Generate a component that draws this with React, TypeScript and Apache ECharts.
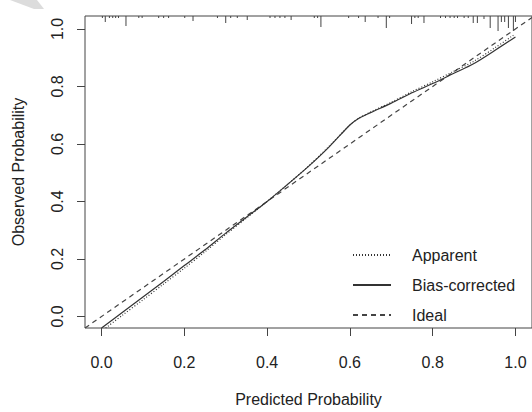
import React, { useEffect, useRef } from "react";
import * as echarts from "echarts";

const xTicks = [0, 0.2, 0.4, 0.6, 0.8, 1.0];
const yTicks = [0, 0.2, 0.4, 0.6, 0.8, 1.0];

const apparentX = [0.01, 0.05, 0.1, 0.15, 0.2, 0.25, 0.3, 0.35, 0.4, 0.45, 0.5, 0.55, 0.6, 0.62, 0.65, 0.7, 0.75, 0.8, 0.85, 0.9, 0.95, 0.995];
const apparentY = [-0.04, 0.004, 0.058, 0.113, 0.168, 0.225, 0.285, 0.342, 0.4, 0.46, 0.523, 0.592, 0.666, 0.688, 0.711, 0.745, 0.782, 0.816, 0.852, 0.888, 0.934, 0.978];

const biasX = [0.0, 0.05, 0.1, 0.15, 0.2, 0.25, 0.3, 0.35, 0.4, 0.45, 0.5, 0.55, 0.6, 0.62, 0.65, 0.7, 0.75, 0.8, 0.85, 0.9, 0.95, 1.0];
const biasY = [-0.04, 0.014, 0.068, 0.122, 0.177, 0.232, 0.29, 0.345, 0.4, 0.46, 0.522, 0.59, 0.666, 0.688, 0.709, 0.742, 0.778, 0.81, 0.845, 0.88, 0.925, 0.972];

const idealX = [-0.04, 1.04];
const idealY = [-0.04, 1.04];

const rugX = [0.002, 0.009, 0.019, 0.027, 0.034, 0.041, 0.059, 0.09, 0.098, 0.138, 0.15, 0.162, 0.201, 0.221, 0.28, 0.3, 0.312, 0.328, 0.352, 0.407, 0.419, 0.431, 0.443, 0.458, 0.514, 0.522, 0.53, 0.597, 0.621, 0.637, 0.668, 0.688, 0.696, 0.749, 0.757, 0.765, 0.779, 0.819, 0.831, 0.842, 0.852, 0.86, 0.876, 0.886, 0.898, 0.908, 0.924, 0.939, 0.958, 0.966, 0.974, 0.983, 0.995, 1.0];
const rugFreq = [2, 6, 2, 2, 2, 2, 10, 2, 2, 2, 2, 2, 2, 5, 2, 7, 2, 2, 4, 2, 2, 2, 2, 4, 2, 2, 11, 2, 2, 6, 2, 12, 2, 8, 2, 2, 7, 2, 2, 2, 2, 2, 2, 2, 7, 7, 3, 12, 15, 6, 6, 12, 15, 6];

const X_MIN = -0.04;
const X_MAX = 1.04;
const Y_MIN = -0.04;
const Y_MAX = 1.045;

const FONT = "'Liberation Sans', Arial, sans-serif";
const INK = "#333";
const TEXT = "#222";

export default function App() {
  const ref = useRef<HTMLDivElement>(null);

  useEffect(() => {
    document.body.style.margin = "0";
    if (!ref.current) return;
    const chart = echarts.init(ref.current, undefined, { renderer: "svg" });

    const zip = (xs: number[], ys: number[]) => xs.map((x, i) => [x, ys[i]]);

    chart.setOption({
      animation: false,
      backgroundColor: "#fff",
      textStyle: { fontFamily: FONT },
      grid: {
        left: 85,
        top: 16,
        width: 455,
        height: 313,
        show: true,
        borderColor: "#444",
        borderWidth: 1,
        backgroundColor: "transparent",
      },
      legend: {
        left: 352,
        top: 247,
        orient: "vertical",
        padding: 0,
        itemWidth: 38,
        itemHeight: 14,
        itemGap: 14,
        data: ["Apparent", "Bias-corrected", "Ideal"],
        itemStyle: { opacity: 0, borderWidth: 0 },
        textStyle: { fontSize: 16, color: TEXT, fontFamily: FONT, padding: [0, 0, 0, 16] },
      },
      xAxis: {
        type: "value",
        min: X_MIN,
        max: X_MAX,
        name: "Predicted Probability",
        nameLocation: "middle",
        nameGap: 63,
        nameTextStyle: { fontSize: 16, color: TEXT, fontFamily: FONT },
        axisLine: { show: false, onZero: false },
        axisTick: { show: true, length: 8, lineStyle: { color: "#444" }, customValues: xTicks },
        axisLabel: {
          fontSize: 16,
          color: TEXT,
          margin: 26,
          customValues: xTicks,
          formatter: (v: number) => v.toFixed(1),
        },
        splitLine: { show: false },
      },
      yAxis: {
        type: "value",
        min: Y_MIN,
        max: Y_MAX,
        name: "Observed Probability",
        nameLocation: "middle",
        nameGap: 59,
        nameTextStyle: { fontSize: 16, color: TEXT, fontFamily: FONT },
        axisLine: { show: false, onZero: false },
        axisTick: { show: true, length: 8, lineStyle: { color: "#444" }, customValues: yTicks },
        axisLabel: {
          fontSize: 16,
          color: TEXT,
          margin: 20,
          rotate: 90,
          customValues: yTicks,
          formatter: (v: number) => v.toFixed(1),
        },
        splitLine: { show: false },
      },
      series: [
        {
          name: "Apparent",
          type: "line",
          data: zip(apparentX, apparentY),
          symbol: "none",
          smooth: 0.3,
          lineStyle: { color: INK, width: 1.2, type: [1, 2] },
          itemStyle: { color: INK },
          z: 3,
        },
        {
          name: "Bias-corrected",
          type: "line",
          data: zip(biasX, biasY),
          symbol: "none",
          smooth: 0.3,
          lineStyle: { color: INK, width: 1.2, type: "solid" },
          itemStyle: { color: INK },
          z: 4,
        },
        {
          name: "Ideal",
          type: "line",
          data: zip(idealX, idealY),
          symbol: "none",
          lineStyle: { color: "#444", width: 1.2, type: [5, 4] },
          itemStyle: { color: "#444" },
          z: 2,
        },
        {
          name: "rug",
          type: "custom",
          data: zip(rugX, rugFreq),
          encode: { x: 0, y: 1 },
          silent: true,
          renderItem: (params: any, api: any) => {
            const x = api.value(0);
            const len = api.value(1);
            const p = api.coord([x, Y_MAX]);
            return {
              type: "line",
              shape: { x1: p[0], y1: p[1], x2: p[0], y2: p[1] + len },
              style: { stroke: "#444", lineWidth: 1 },
            };
          },
          z: 5,
        },
      ],
      graphic: [
        {
          type: "polygon",
          shape: { points: [[10, 0], [37, 0], [44, 9], [34, 9]] },
          style: { fill: "#dcdcdc" },
          silent: true,
        },
      ],
    });

    return () => chart.dispose();
  }, []);

  return <div ref={ref} style={{ width: 532, height: 412 }} />;
}
